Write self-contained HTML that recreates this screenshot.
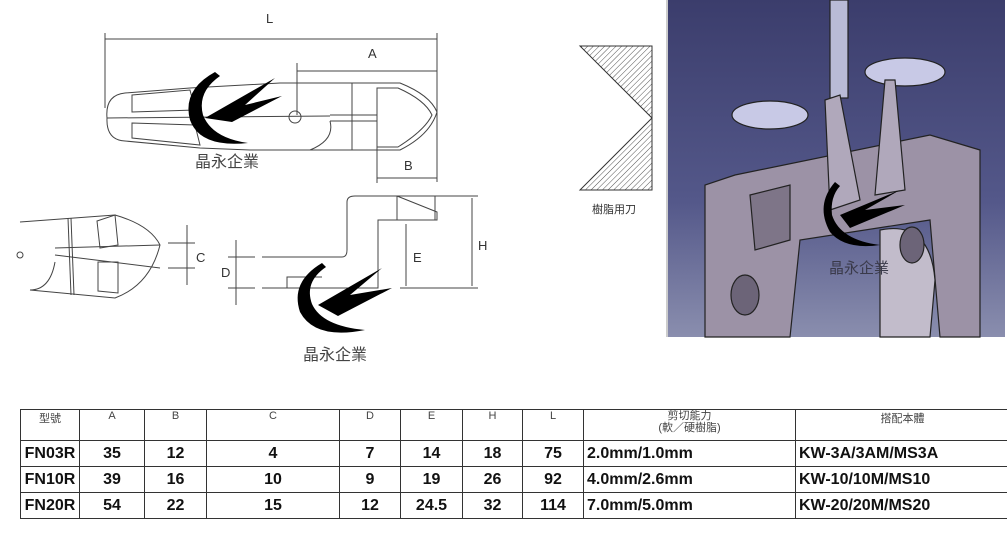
<!DOCTYPE html>
<html><head><meta charset="utf-8"><style>
body{margin:0;width:1007px;height:535px;background:#fff;overflow:hidden;position:relative;font-family:"Liberation Sans","Noto Sans CJK TC",sans-serif}
svg{position:absolute;left:0;top:0}
table{position:absolute;left:20px;top:409px;border-collapse:collapse;width:990px}
td{border:1px solid #333;text-align:center;font-family:"Liberation Sans Narrow","Liberation Sans","Noto Sans CJK TC",sans-serif;font-weight:bold;font-size:16px;padding:0;height:25px;color:#111}
tr.h td{height:30px;font-weight:normal;font-size:11px;vertical-align:top;color:#444}
td.l{text-align:left;padding-left:3px}
</style></head><body>
<svg width="1007" height="535" viewBox="0 0 1007 535">
<defs>
<pattern id="hat" width="4" height="4" patternUnits="userSpaceOnUse" patternTransform="rotate(45)"><line x1="0" y1="0" x2="0" y2="4" stroke="#555" stroke-width="1"/></pattern>
<linearGradient id="bg" x1="0" y1="0" x2="0" y2="1"><stop offset="0" stop-color="#3b3d6c"/><stop offset="0.6" stop-color="#54588a"/><stop offset="1" stop-color="#8a8eae"/></linearGradient>
</defs>
<g stroke="#444" fill="none" stroke-width="1">
<line x1="105" y1="33" x2="105" y2="108"/><line x1="437" y1="33" x2="437" y2="182"/>
<line x1="105" y1="39" x2="437" y2="39"/>
<line x1="297" y1="63" x2="297" y2="115"/><line x1="297" y1="71" x2="437" y2="71"/>
<line x1="377" y1="95" x2="377" y2="183"/><line x1="377" y1="178" x2="437" y2="178"/>
<path d="M107,118 Q105,95 125,93 L190,88 L280,83 L400,83 Q430,95 437,112 Q430,135 400,150 L250,150 L200,148 L125,141 Q106,140 107,118 Z"/>
<path d="M132,95 L190,90 L195,110 L132,112 Z M132,123 L195,125 L200,145 L132,138 Z"/>
<line x1="107" y1="118" x2="330" y2="116"/>
<path d="M377,88 L398,88 Q425,100 432,115 Q425,130 398,147 L377,147 Z"/>
<line x1="352" y1="83" x2="352" y2="150"/>
<path d="M330,115 L377,115 M330,121 L377,121 M330,121 Q335,140 310,150"/>
<circle cx="295" cy="117" r="6"/>
<path d="M20,222 L115,215 Q150,225 160,245 Q150,285 115,298 L30,290 Q50,290 55,262"/>
<path d="M97,221 L115,215 L118,245 L100,248 Z M98,262 L118,262 L118,293 L98,291 Z"/>
<line x1="55" y1="248" x2="160" y2="245"/><line x1="55" y1="255" x2="160" y2="268"/>
<line x1="68" y1="218" x2="71" y2="295"/><line x1="71" y1="218" x2="74" y2="295"/>
<circle cx="20" cy="255" r="3"/>
<line x1="168" y1="243" x2="195" y2="243"/><line x1="168" y1="268" x2="195" y2="268"/>
<line x1="187" y1="225" x2="187" y2="285"/>
<path d="M262,257 L342,257 Q347,257 347,250 L347,202 Q347,196 355,196 L397,196 L397,220 L435,220 L435,196 L397,196 L437,212 L437,220 L397,220 L378,220 L378,288 L262,288"/>
<path d="M287,288 L287,277 L322,277"/>
<line x1="400" y1="196" x2="478" y2="196"/><line x1="400" y1="288" x2="478" y2="288"/>
<line x1="472" y1="198" x2="472" y2="286"/><line x1="406" y1="224" x2="406" y2="286"/>
<line x1="228" y1="257" x2="255" y2="257"/><line x1="228" y1="288" x2="255" y2="288"/>
<line x1="236" y1="240" x2="236" y2="305"/>
</g>
<g fill="url(#hat)" stroke="#333" stroke-width="1">
<polygon points="580,46 652,46 652,118"/><polygon points="652,118 652,190 580,190"/>
</g>
<g font-size="13" fill="#333" font-family="Liberation Sans,sans-serif">
<text x="266" y="23">L</text><text x="368" y="58">A</text><text x="404" y="170">B</text>
<text x="196" y="262">C</text><text x="221" y="277">D</text><text x="413" y="262">E</text><text x="478" y="250">H</text>
<text x="592" y="213" font-size="11" font-family="Noto Sans CJK TC,sans-serif">樹脂用刀</text>
</g>
<g fill="#000">
<path d="M215,72 Q182,90 190,120 Q200,148 248,143 Q212,138 203,115 Q197,92 220,76 Z"/>
<path d="M205,118 L275,78 L245,105 L282,96 L232,122 Z"/>
<path d="M322,263 Q290,282 300,312 Q315,340 365,330 Q322,326 312,304 Q304,282 326,267 Z"/>
<path d="M318,305 L382,268 L350,295 L392,288 L338,316 Z"/>
</g>
<g fill="#444" font-family="Noto Sans CJK TC,sans-serif" font-size="16">
<text x="195" y="167">晶永企業</text><text x="303" y="360">晶永企業</text>
</g>
<line x1="667" y1="0" x2="667" y2="337" stroke="#999"/>
<rect x="668" y="0" width="337" height="337" fill="url(#bg)"/>
<g stroke="#222" stroke-width="1.2" fill="#a9a0b5">
<rect x="830" y="0" width="18" height="98" fill="#b9bbd6"/>
<ellipse cx="905" cy="72" rx="40" ry="14" fill="#c8c9e6"/>
<ellipse cx="770" cy="115" rx="38" ry="14" fill="#c8c9e6"/>
<path d="M735,175 L930,135 L980,150 L980,337 L940,337 L930,220 L800,240 L790,337 L705,337 L705,185 Z" fill="#9c92a6"/>
<path d="M750,195 L790,185 L790,240 L755,250 Z" fill="#7e7588"/>
<path d="M825,100 L840,95 L860,200 L830,210 Z" fill="#b0a8bb"/>
<path d="M885,80 L895,80 L905,190 L875,195 Z" fill="#b0a8bb"/>
<path d="M880,230 Q930,220 935,280 L930,337 L880,337 Z" fill="#c2bccb"/>
<ellipse cx="745" cy="295" rx="14" ry="20" fill="#6c6478"/>
<ellipse cx="912" cy="245" rx="12" ry="18" fill="#6c6478"/>
</g>
<path d="M835,182 Q815,205 830,232 Q845,250 880,245 Q840,240 832,215 Q830,197 840,186 Z" fill="#000"/>
<path d="M840,215 L900,190 L865,210 L905,205 L850,228 Z" fill="#000"/>
<text x="829" y="273" fill="#3a3a4a" font-size="15" font-family="Noto Sans CJK TC,sans-serif">晶永企業</text>
</svg>
<table>
<tr class="h"><td style="width:58px">型號</td><td style="width:64px">A</td><td style="width:61px">B</td><td style="width:132px">C</td><td style="width:60px">D</td><td style="width:61px">E</td><td style="width:59px">H</td><td style="width:60px">L</td><td style="width:211px;line-height:12px">剪切能力<br>(軟／硬樹脂)</td><td>搭配本體</td></tr>
<tr><td>FN03R</td><td>35</td><td>12</td><td>4</td><td>7</td><td>14</td><td>18</td><td>75</td><td class="l">2.0mm/1.0mm</td><td class="l">KW-3A/3AM/MS3A</td></tr>
<tr><td>FN10R</td><td>39</td><td>16</td><td>10</td><td>9</td><td>19</td><td>26</td><td>92</td><td class="l">4.0mm/2.6mm</td><td class="l">KW-10/10M/MS10</td></tr>
<tr><td>FN20R</td><td>54</td><td>22</td><td>15</td><td>12</td><td>24.5</td><td>32</td><td>114</td><td class="l">7.0mm/5.0mm</td><td class="l">KW-20/20M/MS20</td></tr>
</table>
</body></html>
